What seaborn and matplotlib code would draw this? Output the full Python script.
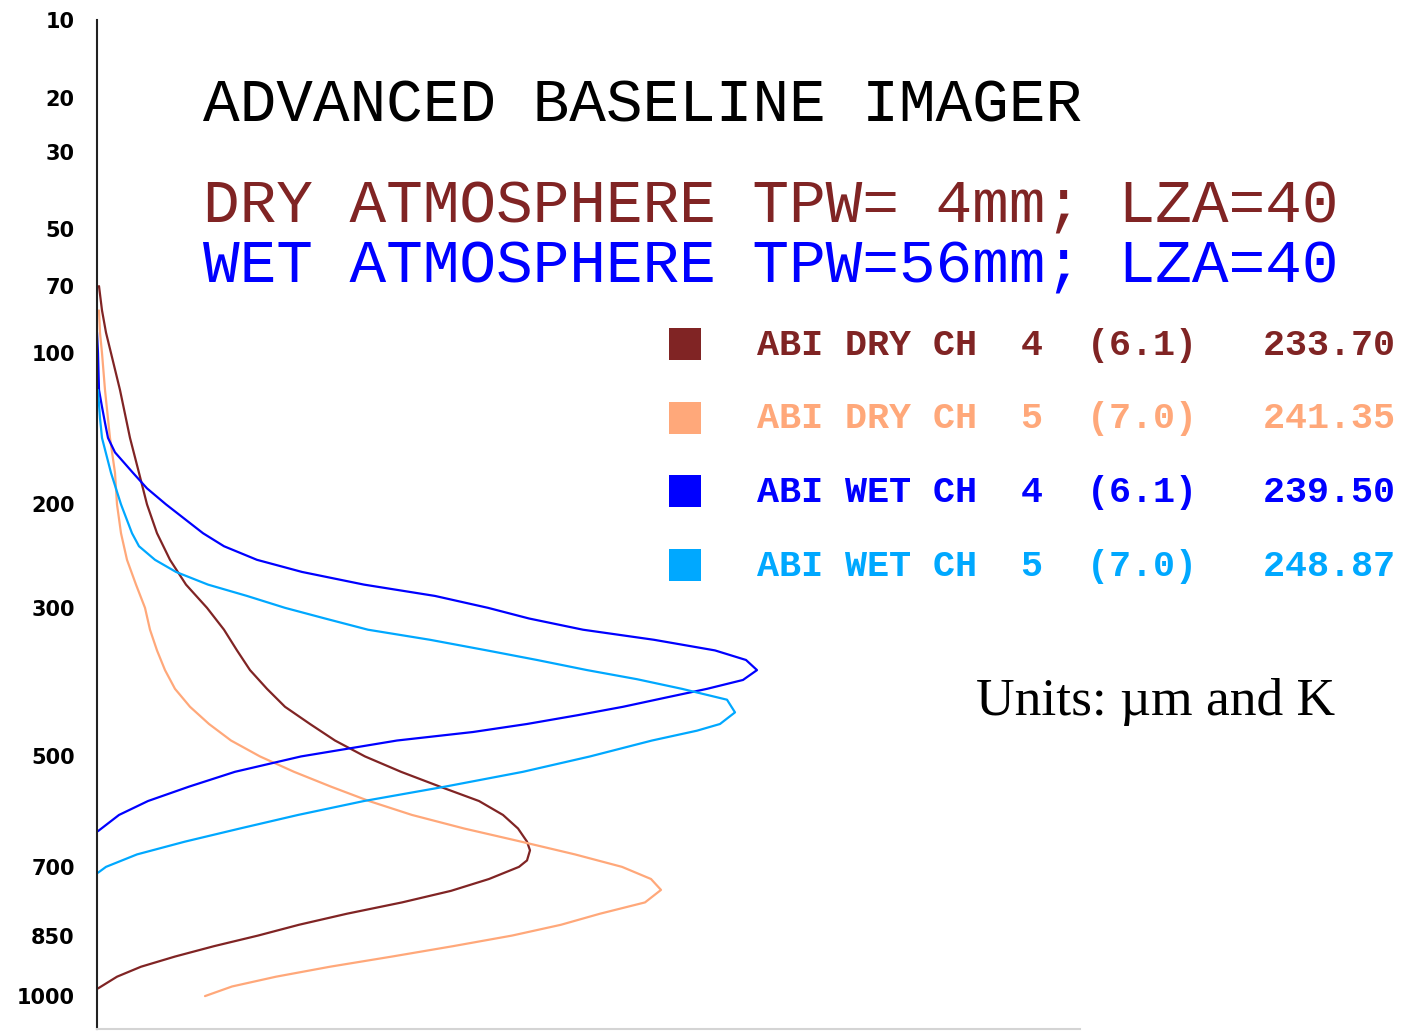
import matplotlib
matplotlib.use("Agg")
import matplotlib.pyplot as plt
import numpy as np
import pandas as pd
import seaborn as sns
from matplotlib.patches import Rectangle
from matplotlib.ticker import NullLocator

# Normalized weighting functions versus pressure (hPa) for the two ABI water-vapour bands
dry4_p = [70, 80, 90, 100, 120, 150, 175, 200, 225, 250, 275, 300, 325, 350, 375, 400,
          425, 450, 475, 500, 525, 550, 575, 600, 625, 650, 667, 687, 700, 725, 750, 775,
          800, 825, 850, 875, 900, 925, 950, 980]
dry4_w = [0.002, 0.005, 0.009, 0.014, 0.023, 0.033, 0.042, 0.050, 0.060, 0.073, 0.089,
          0.110, 0.127, 0.140, 0.153, 0.170, 0.188, 0.213, 0.238, 0.268, 0.304, 0.343,
          0.382, 0.406, 0.421, 0.430, 0.433, 0.430, 0.422, 0.392, 0.354, 0.305, 0.250,
          0.202, 0.161, 0.117, 0.078, 0.044, 0.020, 0.001]

dry5_p = [80, 90, 100, 120, 150, 175, 200, 225, 250, 275, 300, 325, 350, 375, 400, 425,
          450, 475, 500, 525, 550, 575, 600, 625, 650, 675, 700, 725, 748, 775, 800, 825,
          850, 875, 900, 925, 950, 975, 1000]
dry5_w = [0.002, 0.003, 0.005, 0.008, 0.013, 0.018, 0.020, 0.024, 0.030, 0.039, 0.048,
          0.053, 0.060, 0.068, 0.078, 0.093, 0.112, 0.134, 0.163, 0.197, 0.234, 0.272,
          0.315, 0.367, 0.424, 0.478, 0.525, 0.554, 0.564, 0.548, 0.503, 0.464, 0.415,
          0.356, 0.295, 0.233, 0.179, 0.135, 0.108]

wet4_p = [90, 100, 120, 130, 140, 150, 160, 175, 187, 200, 225, 237, 250, 262, 275, 287,
          300, 312, 325, 337, 350, 362, 375, 388, 400, 412, 425, 437, 450, 462, 475, 500,
          525, 550, 575, 600, 630]
wet4_w = [0.000, 0.001, 0.002, 0.005, 0.008, 0.011, 0.018, 0.036, 0.050, 0.069, 0.106,
          0.127, 0.160, 0.205, 0.267, 0.338, 0.391, 0.432, 0.486, 0.557, 0.618, 0.649,
          0.660, 0.646, 0.610, 0.569, 0.526, 0.481, 0.430, 0.376, 0.300, 0.204, 0.138,
          0.092, 0.051, 0.022, 0.001]

wet5_p = [120, 137, 150, 175, 200, 225, 237, 250, 262, 275, 287, 300, 312, 325, 337, 350,
          362, 375, 387, 400, 415, 433, 450, 460, 475, 500, 525, 550, 575, 600, 625, 650,
          675, 700, 712]
wet5_w = [0.001, 0.003, 0.005, 0.014, 0.024, 0.035, 0.042, 0.058, 0.079, 0.111, 0.150,
          0.188, 0.228, 0.271, 0.333, 0.390, 0.440, 0.490, 0.540, 0.585, 0.630, 0.638,
          0.623, 0.600, 0.555, 0.493, 0.426, 0.348, 0.267, 0.201, 0.143, 0.088, 0.040,
          0.009, 0.001]

channels = ["ABI DRY CH 4", "ABI DRY CH 5", "ABI WET CH 4", "ABI WET CH 5"]
colors = ["#802424", "#ffa87a", "#0000ff", "#00a8ff"]
legend_labels = ["ABI DRY CH  4  (6.1)   233.70",
                 "ABI DRY CH  5  (7.0)   241.35",
                 "ABI WET CH  4  (6.1)   239.50",
                 "ABI WET CH  5  (7.0)   248.87"]
pressure_ticks = [10, 20, 30, 50, 70, 100, 200, 300, 500, 700, 850, 1000]

title = "ADVANCED BASELINE IMAGER"
dry_line = "DRY ATMOSPHERE TPW= 4mm; LZA=40"
wet_line = "WET ATMOSPHERE TPW=56mm; LZA=40"
units = "Units: \u00b5m and K"

frames = []
for name, p, w in zip(channels,
                      [dry4_p, dry5_p, wet4_p, wet5_p],
                      [dry4_w, dry5_w, wet4_w, wet5_w]):
    frames.append(pd.DataFrame({"channel": name, "pressure": p, "weight": w}))
df = pd.concat(frames, ignore_index=True)

sns.set_theme(style="white")
plt.rcParams["font.family"] = ["DejaVu Sans"]

W, H = 1401, 1031
fig = plt.figure(figsize=(W / 100, H / 100), dpi=100)
fig.patch.set_facecolor("white")
ax = fig.add_axes([97 / W, 2 / H, 983 / W, 1009 / H])

sns.lineplot(data=df, x="weight", y="pressure", hue="channel",
             palette=dict(zip(channels, colors)), sort=False, estimator=None,
             legend=False, linewidth=1.6, ax=ax)

# pressure axis scaled as p^(2/7), high pressure at the bottom
ax.set_yscale("function", functions=(lambda p: np.power(np.clip(p, 1e-9, None), 2 / 7),
                                     lambda q: np.power(np.clip(q, 0, None), 3.5)))
ax.set_ylim(1089, 10)
ax.set_xlim(0, 0.983)
ax.set_yticks(pressure_ticks)
ax.set_yticklabels([str(t) for t in pressure_ticks], fontweight="bold", fontsize=15,
                   color="black")
ax.yaxis.set_minor_locator(NullLocator())
ax.set_xticks([])
ax.set_xlabel("")
ax.set_ylabel("")
ax.tick_params(axis="y", length=0, pad=16)

for side in ("top", "right"):
    ax.spines[side].set_visible(False)
ax.spines["left"].set_color("#222222")
ax.spines["left"].set_linewidth(1.5)
ax.spines["bottom"].set_color("#d4d4d4")
ax.spines["bottom"].set_linewidth(1.5)
ax.set_facecolor("white")


def px_text(x, y, s, **kw):
    fig.text(x / W, 1 - y / H, s, **kw)


mono = ["Liberation Mono", "DejaVu Sans Mono"]
px_text(203, 121, title, family=mono, fontsize=44, color="black", va="baseline")
px_text(203, 222, dry_line, family=mono, fontsize=44, color=colors[0], va="baseline")
px_text(203, 283, wet_line, family=mono, fontsize=44, color=colors[2], va="baseline")

for i, (lab, col) in enumerate(zip(legend_labels, colors)):
    yc = 344 + i * 73.5
    fig.patches.append(Rectangle((669 / W, 1 - (yc + 16) / H), 32 / W, 32 / H,
                                 transform=fig.transFigure, facecolor=col,
                                 edgecolor="none"))
    px_text(757, yc + 11, lab, family=mono, fontsize=26.5, fontweight="bold",
            color=col, va="baseline")

px_text(976, 715, units, family=["Liberation Serif", "DejaVu Serif"], fontsize=38.5,
        color="black", va="baseline")

fig.savefig("out.png", dpi=100, facecolor="white")
